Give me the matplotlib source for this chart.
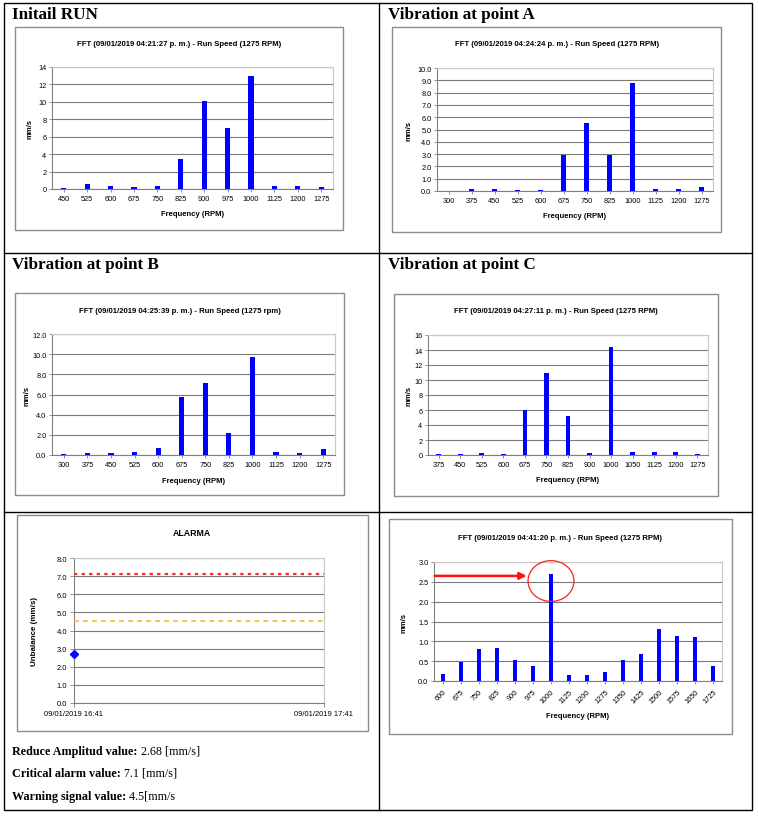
import numpy as np
import matplotlib
matplotlib.use("Agg")
import matplotlib.pyplot as plt
from matplotlib.ticker import FormatStrFormatter
from matplotlib.patches import Rectangle, Ellipse
from matplotlib.lines import Line2D

# ---------------- data ----------------
init_cats = [450, 525, 600, 675, 750, 825, 900, 975, 1000, 1125, 1200, 1275]
init_vals = [0.1, 0.55, 0.3, 0.2, 0.4, 3.5, 10.1, 7.0, 13.0, 0.35, 0.3, 0.2]

a_cats = [300, 375, 450, 525, 600, 675, 750, 825, 1000, 1125, 1200, 1275]
a_vals = [0.0, 0.15, 0.15, 0.05, 0.05, 2.9, 5.55, 2.9, 8.75, 0.2, 0.15, 0.3]

b_cats = [300, 375, 450, 525, 600, 675, 750, 825, 1000, 1125, 1200, 1275]
b_vals = [0.1, 0.2, 0.2, 0.25, 0.7, 5.75, 7.1, 2.2, 9.7, 0.3, 0.2, 0.55]

c_cats = [375, 450, 525, 600, 675, 750, 825, 900, 1000, 1050, 1125, 1200, 1275]
c_vals = [0.1, 0.15, 0.3, 0.15, 6.0, 11.0, 5.15, 0.3, 14.4, 0.4, 0.45, 0.35, 0.1]

f_cats = [600, 675, 750, 825, 900, 975, 1000, 1125, 1200, 1275, 1350, 1425,
          1500, 1575, 1650, 1725]
f_vals = [0.18, 0.48, 0.8, 0.83, 0.53, 0.38, 2.7, 0.15, 0.15, 0.23, 0.52, 0.67,
          1.32, 1.13, 1.1, 0.38]

alarm_times = ["09/01/2019 16:41", "09/01/2019 17:41"]
alarm_value = 2.68
critical_level = 7.1
warning_level = 4.5

headers = ["Initail RUN", "Vibration at point A", "Vibration at point B", "Vibration at point C"]
titles = ["FFT (09/01/2019 04:21:27 p. m.) - Run Speed (1275 RPM)",
          "FFT (09/01/2019 04:24:24 p. m.) - Run Speed (1275 RPM)",
          "FFT (09/01/2019 04:25:39 p. m.) - Run Speed (1275 rpm)",
          "FFT (09/01/2019 04:27:11 p. m.) - Run Speed (1275 RPM)",
          "FFT (09/01/2019 04:41:20 p. m.) - Run Speed (1275 RPM)"]
notes = [("Reduce Amplitud value:", " 2.68 [mm/s]"),
         ("Critical alarm value:", " 7.1 [mm/s]"),
         ("Warning signal value:", " 4.5[mm/s")]

# ---------------- layout helpers ----------------
W, H = 758, 820
fig = plt.figure(figsize=(W / 100, H / 100), dpi=100)
fig.patch.set_facecolor("white")
SANS = "Liberation Sans"
SERIF = "Liberation Serif"


def fx(x):
    return x / W


def fy(y):
    return 1 - y / H


def rect(x0, y0, x1, y1):
    return [x0 / W, 1 - y1 / H, (x1 - x0) / W, (y1 - y0) / H]


def fline(x0, y0, x1, y1, color="black", lw=1.0):
    fig.add_artist(Line2D([fx(x0), fx(x1)], [fy(y0), fy(y1)], color=color, lw=lw,
                          transform=fig.transFigure))


def frame(x0, y0, x1, y1):
    fig.add_artist(Rectangle((fx(x0), fy(y1)), (x1 - x0) / W, (y1 - y0) / H,
                             fill=False, edgecolor="#8c8c8c", lw=1.0,
                             transform=fig.transFigure))


def style_axes(ax):
    for s in ("left", "bottom"):
        ax.spines[s].set_color("#808080")
        ax.spines[s].set_linewidth(0.8)
    for s in ("top", "right"):
        ax.spines[s].set_color("#c8c8c8")
        ax.spines[s].set_linewidth(0.8)
    ax.grid(axis="y", color="#7a7a7a", lw=0.8)
    ax.set_axisbelow(True)
    ax.tick_params(labelsize=5.3, length=2, width=0.6, color="#808080", pad=2)
    for lab in ax.get_xticklabels() + ax.get_yticklabels():
        lab.set_fontfamily(SANS)


def fft_panel(box, cats, vals, ymax, ystep, fmt, title, title_xy, xlabel_y, ylabel_x,
              rot=False):
    ax = fig.add_axes(rect(*box))
    x = np.arange(len(cats))
    ax.bar(x, vals, width=0.22, color="#0000FF", zorder=3)
    ax.set_xlim(-0.5, len(cats) - 0.5)
    ax.set_ylim(0, ymax)
    ax.set_yticks(np.arange(0, ymax + ystep / 2, ystep))
    ax.yaxis.set_major_formatter(FormatStrFormatter(fmt))
    ax.set_xticks(x)
    if rot:
        ax.set_xticklabels([str(c) for c in cats], rotation=45, ha="right",
                           rotation_mode="anchor")
    else:
        ax.set_xticklabels([str(c) for c in cats])
    ax.tick_params(axis="x", length=0, pad=5)
    style_axes(ax)
    fig.text(fx(title_xy[0]), fy(title_xy[1]), title, ha="center", va="center",
             fontsize=5.6, fontweight="bold", family=SANS)
    fig.text(fx((box[0] + box[2]) / 2), fy(xlabel_y), "Frequency (RPM)", ha="center",
             va="center", fontsize=5.5, fontweight="bold", family=SANS)
    fig.text(fx(ylabel_x), fy((box[1] + box[3]) / 2), "mm/s", ha="center", va="center",
             rotation=90, fontsize=5.5, fontweight="bold", family=SANS)
    return ax


# ---------------- table grid ----------------
fig.add_artist(Rectangle((fx(4), fy(811)), (752 - 4) / W, (811 - 4) / H, fill=False,
                         edgecolor="black", lw=1.0, transform=fig.transFigure))
fline(379, 4, 379, 811)
fline(4, 254, 752, 254)
fline(4, 513, 752, 513)

hdr_pos = [(12, 15), (388, 15), (12, 265), (388, 265)]
for (hx, hy), txt in zip(hdr_pos, headers):
    fig.text(fx(hx), fy(hy), txt, ha="left", va="center", fontsize=12.3,
             fontweight="bold", family=SERIF)

# ---------------- chart frames ----------------
frame(15, 28, 343, 231)
frame(392, 28, 721, 233)
frame(15, 294, 344, 496)
frame(394, 295, 718, 497)
frame(17, 516, 368, 732)
frame(389, 520, 732, 735)

# ---------------- FFT panels ----------------
fft_panel((52, 68, 333, 190), init_cats, init_vals, 14, 2, "%d", titles[0],
          (179, 45), 214, 30)
fft_panel((437, 69, 713, 192), a_cats, a_vals, 10, 1, "%.1f", titles[1],
          (557, 45), 217, 409)
fft_panel((52, 335, 335, 456), b_cats, b_vals, 12, 2, "%.1f", titles[2],
          (180, 312), 482, 27)
fft_panel((428, 336, 708, 456), c_cats, c_vals, 16, 2, "%d", titles[3],
          (556, 312), 481, 409)
axf = fft_panel((434, 563, 722, 682), f_cats, f_vals, 3.0, 0.5, "%.1f", titles[4],
                (560, 538), 717, 404, rot=True)
axf.tick_params(axis="x", pad=3)

# highlight circle and arrow around the 1000 RPM bar
peak_i = f_cats.index(1000)
axf.add_patch(Ellipse((peak_i, 2.52), 2.55, 1.03, fill=False, edgecolor="#ff2020",
                      lw=0.9, clip_on=False, zorder=5))
axf.annotate("", xy=(peak_i - 1.35, 2.65), xytext=(-0.45, 2.65),
             arrowprops=dict(arrowstyle="-|>", color="#ff1010", lw=1.8,
                             mutation_scale=10, shrinkA=0, shrinkB=0),
             annotation_clip=False, zorder=6)

# ---------------- ALARMA panel ----------------
axa = fig.add_axes(rect(74, 559, 324, 704))
tpos = np.arange(len(alarm_times))
axa.set_xlim(tpos[0], tpos[-1])
axa.set_ylim(0, 8)
axa.set_yticks(np.arange(0, 8.5, 1.0))
axa.yaxis.set_major_formatter(FormatStrFormatter("%.1f"))
axa.set_xticks(tpos)
axa.set_xticklabels(alarm_times)
axa.plot(tpos, [critical_level] * len(tpos), color="#ff2a2a", lw=1.6,
         dashes=(1.5, 1.9), zorder=4, clip_on=False)
axa.plot(tpos, [warning_level] * len(tpos), color="#ffbb33", lw=1.3,
         dashes=(2.6, 2.4), zorder=4, clip_on=False)
axa.plot([tpos[0]], [alarm_value], marker="D", color="#0000FF", ms=3.6, zorder=5,
         clip_on=False)
style_axes(axa)
axa.tick_params(axis="both", length=3, labelsize=5.4)
fig.text(fx(192), fy(533), "ALARMA", ha="center", va="center", fontsize=6.3,
         fontweight="bold", family=SANS)
fig.text(fx(35), fy((559 + 704) / 2), "Unbalance (mm/s)", ha="center", va="center",
         rotation=90, fontsize=5.8, fontweight="bold", family=SANS)

# ---------------- notes ----------------
renderer = fig.canvas.get_renderer()
for (bold, normal), ny in zip(notes, [752, 774, 797]):
    t = fig.text(fx(12), fy(ny), bold, ha="left", va="center", fontsize=8.7,
                 fontweight="bold", family=SERIF)
    bb = t.get_window_extent(renderer)
    fig.text(bb.x1 / W, fy(ny), normal, ha="left", va="center", fontsize=8.7,
             family=SERIF)

fig.savefig("out.png", dpi=100, facecolor="white")
